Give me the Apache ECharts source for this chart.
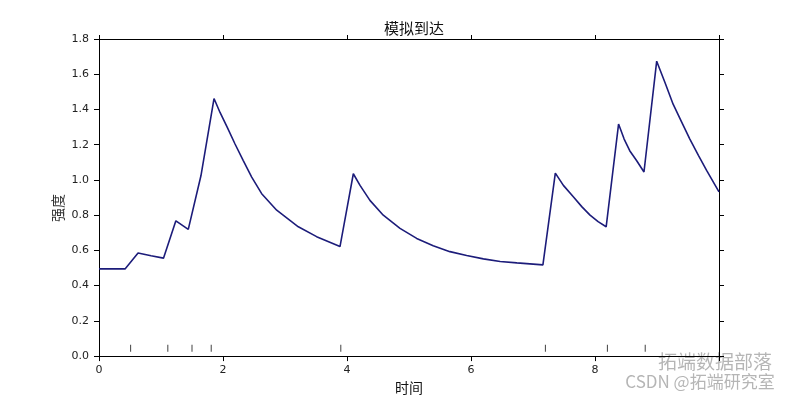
<!DOCTYPE html>
<html>
<head>
<meta charset="utf-8">
<script src="https://cdn.jsdelivr.net/npm/echarts@6/dist/echarts.min.js"></script>
<style>html,body{margin:0;padding:0;background:#fff;}#c{width:800px;height:400px;}</style>
</head>
<body>
<div id="c"></div>
<script>
var timePts = [0, 0.42, 0.63, 0.84, 1.04, 1.24, 1.44, 1.645, 1.855,
  1.952, 2.069, 2.194, 2.327, 2.463, 2.624, 2.866, 3.215, 3.51, 3.887,
  4.102, 4.21, 4.37, 4.585, 4.855, 5.124, 5.39, 5.66, 5.93, 6.20, 6.47, 6.74, 7.16,
  7.36, 7.49, 7.65, 7.79, 7.92, 8.05, 8.18,
  8.38, 8.47, 8.56, 8.67, 8.79,
  8.995, 9.13, 9.26, 9.40, 9.53, 9.67, 9.80, 10.0];
var intensity = [0.495, 0.495, 0.585, 0.570, 0.556, 0.768, 0.719, 1.025, 1.462,
  1.383, 1.298, 1.204, 1.110, 1.016, 0.922, 0.828, 0.734, 0.678, 0.622,
  1.035, 0.969, 0.884, 0.800, 0.725, 0.668, 0.627, 0.593, 0.571, 0.552, 0.537, 0.529, 0.518,
  1.039, 0.969, 0.904, 0.847, 0.800, 0.763, 0.734,
  1.317, 1.232, 1.166, 1.110, 1.045,
  1.674, 1.552, 1.430, 1.327, 1.232, 1.138, 1.054, 0.932];
// Event arrival times (rug marks)
var eventTimes = [0.51, 1.11, 1.50, 1.81, 3.90, 7.20, 8.20, 8.81];
var eventLevel = 0.045;
var xTicks = [0, 2, 4, 6, 8, 10];
var yTicks = [0, 0.2, 0.4, 0.6, 0.8, 1.0, 1.2, 1.4, 1.6, 1.8];

var curve = timePts.map(function (t, i) { return [t, intensity[i]]; });
var events = eventTimes.map(function (t) { return [t, eventLevel]; });

var chart = echarts.init(document.getElementById('c'), null, {renderer: 'canvas'});
var axisLine = {show: true, onZero: false, lineStyle: {color: '#000', width: 1}};
var tickFont = {fontFamily: 'DejaVu Sans', fontSize: 11, color: '#222'};
chart.setOption({
  animation: false,
  backgroundColor: '#fff',
  title: {
    text: '模拟到达', left: 409, top: 16, textAlign: 'center',
    textStyle: {fontFamily: 'Noto Sans CJK SC', fontSize: 15, fontWeight: 'normal', color: '#111'}
  },
  grid: {left: 99, right: 81, top: 39, bottom: 42},
  xAxis: [{
    type: 'value', min: xTicks[0], max: xTicks[xTicks.length - 1], interval: 2, position: 'bottom',
    axisLine: axisLine, axisTick: {show: true, length: 5, lineStyle: {color: '#000'}},
    splitLine: {show: false},
    axisLabel: Object.assign({margin: 9, formatter: function (v) { return v === 10 ? '' : String(v); }}, tickFont),
    name: '时间', nameLocation: 'middle', nameGap: 22,
    nameTextStyle: {fontFamily: 'Noto Sans CJK SC', fontSize: 14, color: '#111'}
  }, {
    type: 'value', min: xTicks[0], max: xTicks[xTicks.length - 1], interval: 2, position: 'top',
    axisLine: axisLine, axisTick: {show: true, length: 4, lineStyle: {color: '#000'}},
    splitLine: {show: false}, axisLabel: {show: false}
  }],
  yAxis: [{
    type: 'value', min: yTicks[0], max: yTicks[yTicks.length - 1], interval: 0.2, position: 'left',
    axisLine: axisLine, axisTick: {show: true, length: 5, lineStyle: {color: '#000'}},
    splitLine: {show: false},
    axisLabel: Object.assign({margin: 10, formatter: function (v) { return v.toFixed(1); }}, tickFont)
  }, {
    type: 'value', min: yTicks[0], max: yTicks[yTicks.length - 1], interval: 0.2, position: 'right',
    axisLine: axisLine, axisTick: {show: true, length: 5, lineStyle: {color: '#000'}},
    splitLine: {show: false}, axisLabel: {show: false}
  }],
  graphic: [{
    type: 'text', x: 58, y: 208, rotation: Math.PI / 2,
    style: {text: '强度', fontFamily: 'Noto Sans CJK SC', fontSize: 14, fill: '#333', align: 'center', verticalAlign: 'middle'}
  }, {
    type: 'text', x: 715, y: 362,
    style: {text: '拓端数据部落', fontFamily: 'Noto Sans CJK SC', fontSize: 19, fill: 'rgba(120,120,120,0.55)', align: 'center', verticalAlign: 'middle'}
  }, {
    type: 'text', x: 700, y: 382,
    style: {text: 'CSDN @拓端研究室', fontFamily: 'Noto Sans CJK SC', fontSize: 17, fill: 'rgba(120,120,120,0.55)', align: 'center', verticalAlign: 'middle'}
  }],
  series: [{
    type: 'line', data: curve, xAxisIndex: 0, yAxisIndex: 0,
    showSymbol: false, symbol: 'none',
    lineStyle: {color: '#1c1c7a', width: 1.6}
  }, {
    type: 'scatter', data: events, xAxisIndex: 0, yAxisIndex: 0,
    symbol: 'rect', symbolSize: [1, 7],
    itemStyle: {color: '#111'}
  }]
});
</script>
</body>
</html>
